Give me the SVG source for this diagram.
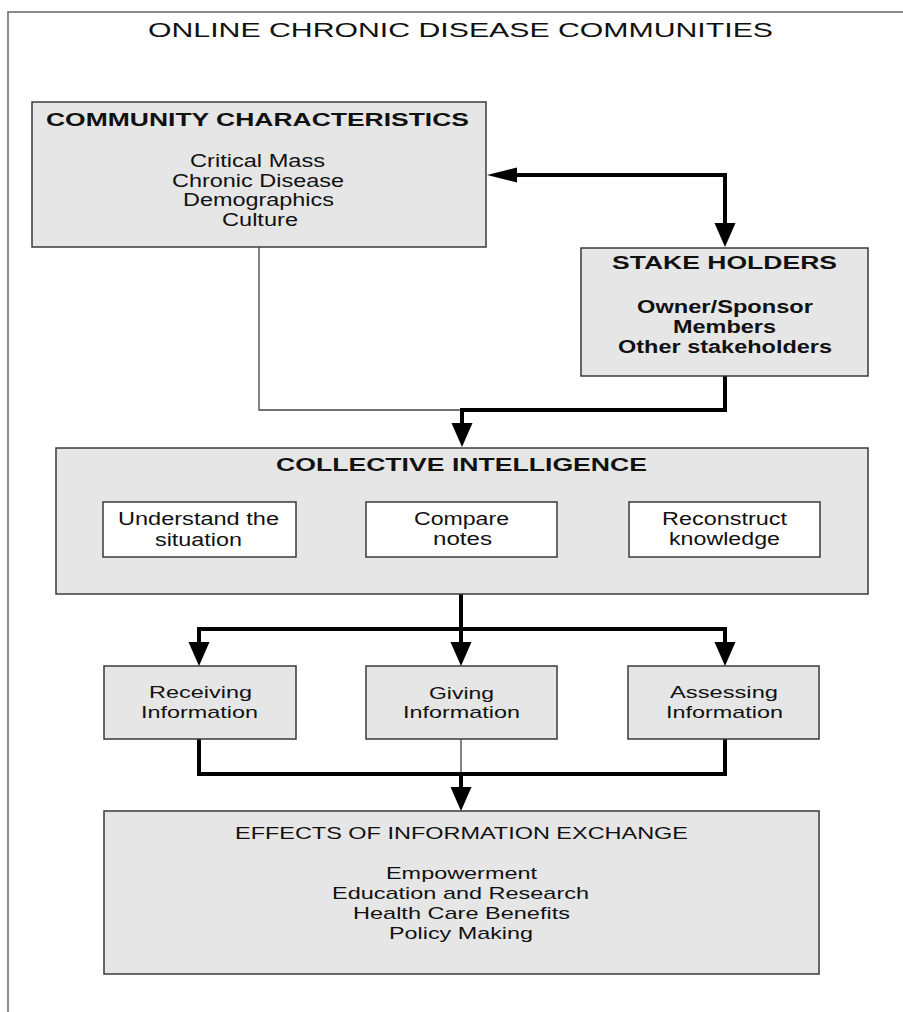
<svg xmlns="http://www.w3.org/2000/svg" width="903" height="1012" viewBox="0 0 903 1012">
<style>
  text { font-family: "Liberation Sans", Arial, sans-serif; fill: #111; }
  .t { font-size: 20px; }
  .h { font-size: 19px; font-weight: bold; }
  .hb { font-size: 17.5px; font-weight: bold; }
  .i { font-size: 17.5px; }
  .s { font-size: 17px; }
  .box { fill: #e6e6e6; stroke: #3a3a3a; stroke-width: 1.5; }
  .wbox { fill: #ffffff; stroke: #3a3a3a; stroke-width: 1.5; }
  .thick { fill: none; stroke: #000; stroke-width: 4; stroke-linejoin: miter; }
  .thin { fill: none; stroke: #444; stroke-width: 1.3; }
  .head { fill: #000; }
</style>
<rect x="0" y="0" width="903" height="1012" fill="#ffffff"/>
<path d="M8,1012 V12 H903" fill="none" stroke="#666" stroke-width="1.5"/>
<text class="t" x="148" y="37" textLength="625" lengthAdjust="spacingAndGlyphs">ONLINE CHRONIC DISEASE COMMUNITIES</text>

<g id="connectors">
  <path class="thick" d="M515,175 H725 V225"/>
  <polygon class="head" points="487,175 517,167.5 517,182.5"/>
  <polygon class="head" points="725,247 714.5,223 735.5,223"/>
  <path class="thin" d="M259,247 V410 H462"/>
  <path class="thick" d="M725,376 V410 H462 V425"/>
  <polygon class="head" points="462,447 451.5,423 472.5,423"/>
  <path class="thick" d="M461,594 V644"/>
  <path class="thick" d="M199,644 V629 H725 V644"/>
  <polygon class="head" points="199,666 188.5,642 209.5,642"/>
  <polygon class="head" points="461,666 450.5,642 471.5,642"/>
  <polygon class="head" points="725,666 714.5,642 735.5,642"/>
  <path class="thick" d="M199,739 V774 H725 V739"/>
  <path class="thin" d="M461,739 V774"/>
  <path class="thick" d="M461,772 V789"/>
  <polygon class="head" points="461,811 450.5,787 471.5,787"/>
</g>

<g id="community">
  <rect class="box" x="32" y="102" width="454" height="145"/>
  <text class="h" x="46" y="126" textLength="423" lengthAdjust="spacingAndGlyphs">COMMUNITY CHARACTERISTICS</text>
  <text class="i" x="190" y="167" textLength="135" lengthAdjust="spacingAndGlyphs">Critical Mass</text>
  <text class="i" x="172" y="187" textLength="172" lengthAdjust="spacingAndGlyphs">Chronic Disease</text>
  <text class="i" x="183" y="206" textLength="151" lengthAdjust="spacingAndGlyphs">Demographics</text>
  <text class="i" x="222" y="226" textLength="76" lengthAdjust="spacingAndGlyphs">Culture</text>
</g>

<g id="stakeholders">
  <rect class="box" x="581" y="248" width="287" height="128"/>
  <text class="hb" x="612" y="269" textLength="225" lengthAdjust="spacingAndGlyphs">STAKE HOLDERS</text>
  <text class="hb" x="637" y="313" textLength="176" lengthAdjust="spacingAndGlyphs">Owner/Sponsor</text>
  <text class="hb" x="673" y="333" textLength="103" lengthAdjust="spacingAndGlyphs">Members</text>
  <text class="hb" x="618" y="353" textLength="214" lengthAdjust="spacingAndGlyphs">Other stakeholders</text>
</g>

<g id="collective">
  <rect class="box" x="56" y="448" width="812" height="146"/>
  <text class="hb" x="276" y="471" textLength="371" lengthAdjust="spacingAndGlyphs">COLLECTIVE INTELLIGENCE</text>
</g>

<g id="understand">
  <rect class="wbox" x="103" y="502" width="193" height="55"/>
  <text class="i" x="118" y="525" textLength="161" lengthAdjust="spacingAndGlyphs">Understand the</text>
  <text class="i" x="155" y="546" textLength="87" lengthAdjust="spacingAndGlyphs">situation</text>
</g>

<g id="compare">
  <rect class="wbox" x="366" y="502" width="191" height="55"/>
  <text class="i" x="414" y="525" textLength="95" lengthAdjust="spacingAndGlyphs">Compare</text>
  <text class="i" x="433" y="545" textLength="59" lengthAdjust="spacingAndGlyphs">notes</text>
</g>

<g id="reconstruct">
  <rect class="wbox" x="629" y="502" width="191" height="55"/>
  <text class="i" x="662" y="525" textLength="125" lengthAdjust="spacingAndGlyphs">Reconstruct</text>
  <text class="i" x="669" y="545" textLength="111" lengthAdjust="spacingAndGlyphs">knowledge</text>
</g>

<g id="receiving">
  <rect class="box" x="104" y="666" width="192" height="73"/>
  <text class="s" x="149" y="698" textLength="103" lengthAdjust="spacingAndGlyphs">Receiving</text>
  <text class="s" x="141" y="718" textLength="117" lengthAdjust="spacingAndGlyphs">Information</text>
</g>

<g id="giving">
  <rect class="box" x="366" y="666" width="191" height="73"/>
  <text class="s" x="429" y="699" textLength="65" lengthAdjust="spacingAndGlyphs">Giving</text>
  <text class="s" x="403" y="718" textLength="117" lengthAdjust="spacingAndGlyphs">Information</text>
</g>

<g id="assessing">
  <rect class="box" x="628" y="666" width="191" height="73"/>
  <text class="s" x="670" y="698" textLength="108" lengthAdjust="spacingAndGlyphs">Assessing</text>
  <text class="s" x="666" y="718" textLength="117" lengthAdjust="spacingAndGlyphs">Information</text>
</g>

<g id="effects">
  <rect class="box" x="104" y="811" width="715" height="163"/>
  <text class="s" x="235" y="839" textLength="453" lengthAdjust="spacingAndGlyphs">EFFECTS OF INFORMATION EXCHANGE</text>
  <text class="s" x="386" y="879" textLength="151" lengthAdjust="spacingAndGlyphs">Empowerment</text>
  <text class="s" x="332" y="899" textLength="257" lengthAdjust="spacingAndGlyphs">Education and Research</text>
  <text class="s" x="353" y="919" textLength="217" lengthAdjust="spacingAndGlyphs">Health Care Benefits</text>
  <text class="s" x="389" y="939" textLength="144" lengthAdjust="spacingAndGlyphs">Policy Making</text>
</g>
</svg>
